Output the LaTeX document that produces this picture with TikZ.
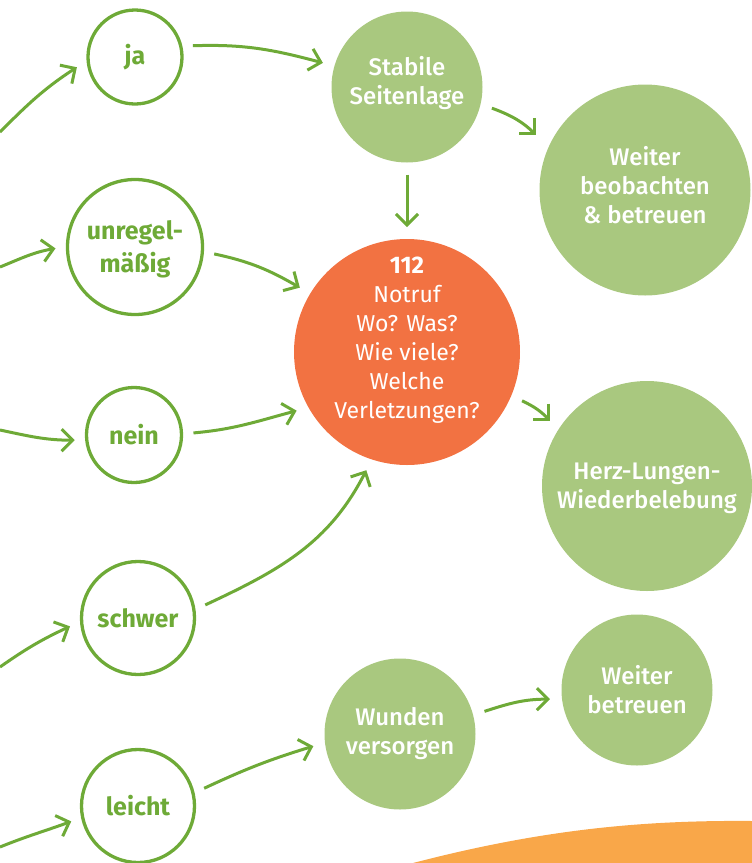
\documentclass[tikz,border=0pt]{standalone}
\usepackage{fontspec}
\setsansfont{Fira Sans}
\IfFontExistsTF{Fira Sans Medium}{\newfontfamily\mediumfont{Fira Sans Medium}}{\newcommand\mediumfont{\sffamily\bfseries}}
\usepackage{tikz}
\usetikzlibrary{arrows.meta}
\definecolor{drkgreen}{RGB}{110,170,55}
\definecolor{lightgreen}{RGB}{169,200,127}
\definecolor{notrufred}{RGB}{242,114,66}
\definecolor{bandorange}{RGB}{249,167,73}

\begin{document}
\begin{tikzpicture}[
  x=1pt, y=1pt,
  font=\sffamily\fontsize{23}{29}\selectfont,
  answer/.style={circle, draw=drkgreen, line width=3.3pt, text=drkgreen, font=\sffamily\bfseries\fontsize{25}{33}\selectfont, align=center, inner sep=0pt, outer sep=12pt},
  measure/.style={circle, fill=lightgreen, text=white, font=\mediumfont\fontsize{24}{29}\selectfont, align=center, inner sep=0pt, outer sep=12pt},
  notruf/.style={circle, fill=notrufred, text=white, align=center, inner sep=-30pt, outer sep=12pt, minimum size=226pt},
  flow/.style={draw=drkgreen, line width=3pt, -{Straight Barb[length=11pt, width=22pt]}}
]
\useasboundingbox (0,0) rectangle (752,-863);

% orange band at the bottom
\fill[bandorange] (413,-863) .. controls (540,-830) and (640,-820) .. (752,-821) -- (752,-863) -- cycle;

% answers
\node[answer, minimum size=94pt] (ja) at (135,-57) {ja};
\node[answer, minimum size=135pt, text depth=0pt] (unregel) at (135,-247) {unregel-\\mäßig};
\node[answer, minimum size=95pt] (nein) at (134,-435) {nein};
\node[answer, minimum size=113pt] (schwer) at (138,-618) {schwer};
\node[answer, minimum size=113pt] (leicht) at (138,-806) {leicht};

% measures
\node[measure, minimum size=151pt, text depth=13pt] (seitenlage) at (407,-87) {Stabile\\Seitenlage};
\node[measure, minimum size=211pt, text depth=11pt] (beobachten) at (645,-190) {Weiter\\beobachten\\\& betreuen};
\node[notruf, text depth=29pt] (notruf) at (407,-352) {{\bfseries\fontsize{24}{29}\selectfont 112}\\Notruf\\Wo? Was?\\Wie viele?\\Welche\\Verletzungen?};
\node[measure, minimum size=210pt, text depth=0pt] (hlw) at (647,-486) {Herz-Lungen-\\Wiederbelebung};
\node[measure, minimum size=151pt] (wunden) at (400,-734) {Wunden\\versorgen};
\node[measure, minimum size=151pt] (betreuen) at (637,-690) {Weiter\\betreuen};

% incoming from the left
\coordinate (fromja) at (0,-132);
\coordinate (fromunregel) at (0,-267);
\coordinate (fromnein) at (0,-430);
\coordinate (fromschwer) at (0,-667);
\coordinate (fromleicht) at (0,-847);

\draw[flow] (fromja) to[out=45, in=213] (ja.190);
\draw[flow] (fromunregel) to[out=22, in=190] (unregel.181);
\draw[flow] (fromnein) to[out=-12, in=180] (nein.185);
\draw[flow] (fromschwer) to[out=35, in=205] (schwer.187);
\draw[flow] (fromleicht) to[out=22, in=200] (leicht.193);

% connections
\draw[flow] (ja.11) to[out=2, in=165] (seitenlage.164);
\draw[flow, shorten >=5pt] (seitenlage.-14) to[out=-20, in=135] (beobachten.154);
\draw[flow] (seitenlage.-90) -- (notruf.90);
\draw[flow] (unregel.-5) to[out=-12, in=150] (notruf.149);
\draw[flow] (nein.2) to[out=5, in=195] (notruf.208);
\draw[flow] (schwer.11) to[out=25, in=243] (notruf.251);
\draw[flow] (notruf.-23) to[out=-25, in=135] (hlw.146);
\draw[flow] (leicht.15) to[out=25, in=197] (wunden.188);
\draw[flow] (wunden.15) to[out=18, in=180] (betreuen.186);
\end{tikzpicture}
\end{document}
